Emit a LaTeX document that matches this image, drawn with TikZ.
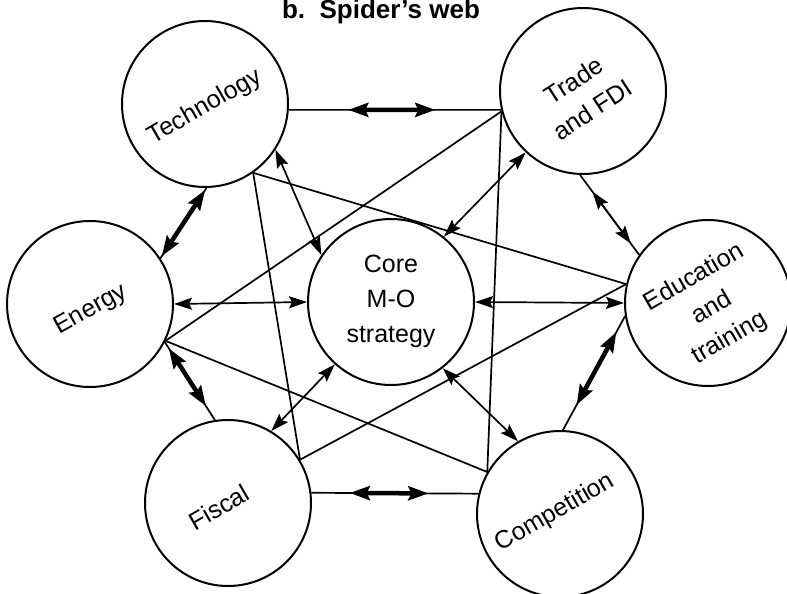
\documentclass[tikz,border=0pt]{standalone}
\usepackage{fontspec}
\setmainfont{Liberation Sans}
\usetikzlibrary{calc,arrows.meta}
\begin{document}
\begin{tikzpicture}[x=1pt,y=-1pt,
  circ/.style={circle,draw,line width=2pt,minimum size=166pt,inner sep=0pt},
  lbl/.style={font=\fontsize{25}{35}\selectfont,align=center,inner sep=0pt},
  conn/.style={line width=1.7pt},
  dbl/.style={line width=1.7pt,{Stealth[length=18pt,width=12pt,inset=3pt]}-{Stealth[length=18pt,width=12pt,inset=3pt]}},
  thk/.style={line width=4.5pt,{Stealth[length=20pt,width=14pt,inset=3pt]}-{Stealth[length=20pt,width=14pt,inset=3pt]}}]
\useasboundingbox (0,0) rectangle (787,594);
% title
\node[anchor=base,font=\fontsize{26}{30}\selectfont\bfseries,inner sep=0pt] (title) at (381,19) {b.\ \ Spider’s web};
% circles
\node[circ] (T) at (205,104) {};
\node[circ] (F) at (583,91) {};
\node[circ] (E) at (90,304) {};
\node[circ] (D) at (708,303) {};
\node[circ] (S) at (228,503) {};
\node[circ] (C) at (560,514) {};
\node[circ] (M) at (391,302) {};
% labels
\node[lbl,rotate=30] (Tl) at (205,107) {Technology};
\node[lbl,rotate=33] (Fl) at (583,95) {Trade\\and FDI};
\node[lbl,rotate=29] (El) at (91,310) {Energy};
\node[lbl,rotate=30] (Sl) at (219,507) {Fiscal};
\node[lbl,rotate=30] (Cl) at (555,513) {Competition};
\node[lbl,rotate=30] (Dl) at (712,308) {Education\\and\\training};
\node[lbl] (Ml) at (391,301) {Core\\M-O\\strategy};
% plain connectors
\draw[conn] (T.-55) -- (D.167);
\draw[conn] (T.-55) -- (S.31);
\draw[conn] (F.194) -- (E.-26);
\draw[conn] (F.194) -- (C.150);
\draw[conn] (E.-26) -- (C.150);
\draw[conn] (S.31) -- (D.167);
% Technology - Trade
\draw[conn] (T.-4) -- (F.193);
\draw[thk] ($(T.-4)!0.28!(F.193)$) -- ($(F.193)!0.31!(T.-4)$);
% Fiscal - Competition
\draw[conn] (S.7) -- (C.166);
\draw[thk] ($(S.7)!0.23!(C.166)$) -- ($(C.166)!0.30!(S.7)$);
% thick double arrows
\draw[thk] ($(T.-89)!0.03!(E.33)$) -- ($(E.33)!0.03!(T.-89)$);
\draw[conn] (T.-89) -- (E.33);
\draw[conn] (E.-27) -- (S.99);
\draw[thk] ($(E.-27)!0.08!(S.99)$) -- ($(S.99)!0.18!(E.-27)$);
\draw[conn] (D.189) -- (C.88);
\draw[thk] ($(D.189)!0.14!(C.88)$) -- ($(C.88)!0.22!(D.189)$);
% thin double arrows
\draw[conn] (F.268) -- (D.145);
\draw[dbl] ($(F.268)!0.21!(D.145)$) -- ($(D.145)!0.14!(F.268)$);
\draw[dbl] (T.-33) -- (M.146);
\draw[dbl] (F.227) -- (M.51);
\draw[dbl] (S.59) -- (M.228);
\draw[dbl] (M.-52) -- (C.120);
\draw[dbl] (E.east) -- (M.west);
\draw[dbl] (M.east) -- (D.west);
\end{tikzpicture}
\end{document}
